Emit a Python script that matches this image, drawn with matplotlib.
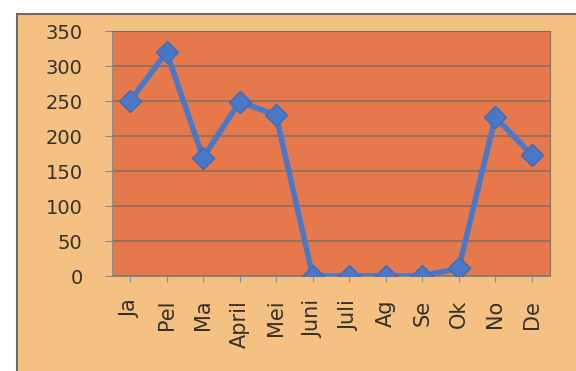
import matplotlib
matplotlib.use('Agg')
import matplotlib.pyplot as plt
from matplotlib.patches import Rectangle

months = ['Ja', 'Pel', 'Ma', 'April', 'Mei', 'Juni', 'Juli', 'Ag', 'Se', 'Ok', 'No', 'De']
values = [250, 320, 169, 249, 230, 0, 0, 0, 0, 11, 227, 173]
y_ticks = [0, 50, 100, 150, 200, 250, 300, 350]

fig = plt.figure(figsize=(5.76, 3.71), dpi=100)
fig.patch.set_facecolor('white')

# outer chart area, behind the axes
box = Rectangle((0.03, -0.01), 0.98, 0.972, transform=fig.transFigure,
                facecolor='#f4c183', edgecolor='#6b6b6b', linewidth=1.5, zorder=-5)
fig.add_artist(box)

ax = fig.add_axes([0.194, 0.256, 0.761, 0.66])
ax.set_zorder(2)
ax.set_facecolor('#e6794b')
x = list(range(len(months)))
ax.plot(x, values, color='#4a78c8', linewidth=4, marker='D', markersize=11,
        markerfacecolor='#4a78c8', markeredgecolor='#3e68b0', zorder=3)

ax.set_xlim(-0.5, len(months) - 0.5)
ax.set_ylim(0, 350)
ax.set_yticks(y_ticks)
ax.set_xticks(x)
ax.set_xticklabels(months, rotation=90, fontsize=15)
ax.set_yticklabels([str(v) for v in y_ticks], fontsize=14)
ax.tick_params(axis='x', colors='#8a8a8a', length=4, pad=13)
ax.tick_params(axis='y', colors='#8a8a8a', length=5, pad=16)
for t in ax.get_xticklabels() + ax.get_yticklabels():
    t.set_color('#35302a')
ax.yaxis.grid(True, color='#8a6e5c', linewidth=1.2)
ax.set_axisbelow(True)
for s in ['top', 'right']:
    ax.spines[s].set_color('#8a6a55')
for s in ['left', 'bottom']:
    ax.spines[s].set_color('#8a8a8a')

fig.savefig('out.png', dpi=100, facecolor=fig.get_facecolor())
